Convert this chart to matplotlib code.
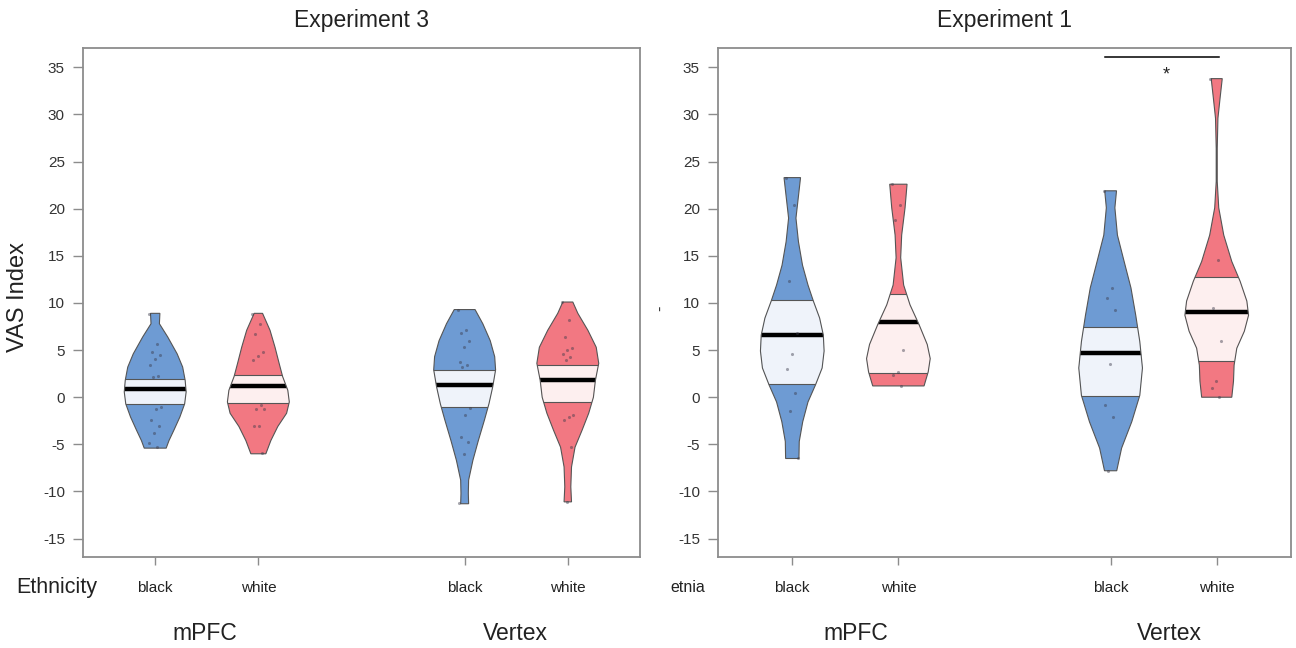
import numpy as np
import matplotlib
matplotlib.use("Agg")
import matplotlib.pyplot as plt
from matplotlib.patches import Rectangle, PathPatch

plt.rcParams['font.family'] = ['Liberation Sans', 'DejaVu Sans']
plt.rcParams['axes.unicode_minus'] = False

# ---------------- data ----------------
positions = [1, 2, 4, 5]
tick_labels = ["black", "white", "black", "white"]
group_names = ["mPFC", "Vertex"]
yticks = [-15, -10, -5, 0, 5, 10, 15, 20, 25, 30, 35]

# Experiment 3 bean outlines: value levels and relative density (half width)
e3_mpfc_black_y = [-5.4, -4.6, -3.5, -2.1, -0.7, 0.56, 1.8, 3.2, 4.6, 6.4, 7.8, 8.9]
e3_mpfc_black_d = [11, 13.8, 18.7, 24.7, 29.5, 31, 30, 27.5, 22, 12.5, 4.2, 4.7]
e3_mpfc_white_y = [-6.0, -4.6, -3.1, -1.7, -0.5, 0.74, 2.2, 3.6, 5.3, 7.1, 8.9]
e3_mpfc_white_d = [7.5, 12.5, 19.5, 28.3, 31, 29.5, 24.3, 20.8, 16.7, 11.7, 4.2]
e3_vertex_black_y = [-11.3, -10.2, -8.8, -6.7, -4.6, -2.4, -0.7, 1.1, 2.9, 4.3, 6.0, 7.8, 9.3]
e3_vertex_black_d = [4, 3.7, 4, 8.3, 13.8, 20, 24.5, 28.3, 31.2, 30.3, 25.8, 18.3, 10.5]
e3_vertex_white_y = [-11.1, -9.5, -7.4, -5.3, -3.5, -1.7, 0.0, 1.8, 3.6, 5.3, 7.1, 8.9, 10.1]
e3_vertex_white_d = [3.7, 3, 3.7, 7.2, 14.2, 20.8, 25.5, 27.5, 30.8, 28.3, 20, 10, 5]

# Experiment 1 bean outlines
e1_mpfc_black_y = [-6.5, -4.7, -2.6, -0.5, 1.3, 3.1, 4.9, 6.6, 8.4, 10.2, 11.9, 14.0, 16.5, 19.0, 21.8, 23.3]
e1_mpfc_black_d = [6.7, 7, 10.5, 15.8, 23.3, 30, 32, 31.2, 27.5, 21.2, 15.8, 10.3, 6.2, 3.7, 6.7, 8.3]
e1_mpfc_white_y = [1.2, 2.7, 4.1, 5.6, 7.7, 9.8, 11.9, 14.8, 17.2, 20.1, 22.6]
e1_mpfc_white_d = [25.8, 30, 32, 29, 20.8, 11.7, 5.3, 2.3, 3.3, 6.7, 8.7]
e1_vertex_black_y = [-7.8, -5.4, -2.6, 0.2, 3.1, 5.9, 8.7, 11.6, 14.4, 17.2, 20.1, 21.9]
e1_vertex_black_d = [6, 10.8, 20.8, 28.7, 31.3, 28.7, 24.7, 20, 13.3, 6.7, 4.2, 5.8]
e1_vertex_white_y = [0.0, 1.7, 3.4, 5.2, 7.0, 8.7, 10.2, 12.3, 14.4, 17.2, 20.1, 22.9, 26.4, 29.6, 31.7, 33.8]
e1_vertex_white_d = [15, 16.7, 17.3, 20, 27.5, 31.7, 30, 23.3, 15, 7, 2, 0.5, 0.5, 1.2, 3.3, 5.5]

# means and inference bands (lower, upper)
e3_means = [0.85, 1.15, 1.25, 1.85]
e3_band_lo = [-0.7, -0.6, -1.0, -0.5]
e3_band_hi = [1.9, 2.4, 2.9, 3.4]
e1_means = [6.6, 8.0, 4.7, 9.0]
e1_band_lo = [1.4, 2.6, 0.1, 3.8]
e1_band_hi = [10.3, 10.9, 7.5, 12.8]

# raw points
e3_mpfc_black_pts = [8.8, 5.7, 4.8, 4.5, 4.1, 3.4, 2.3, 2.1, -1.0, -1.2, -2.4, -3.1, -3.8, -4.9, -5.3]
e3_mpfc_white_pts = [8.8, 7.8, 6.7, 4.8, 4.4, 3.9, -0.8, -1.2, -1.3, -3.1, -3.1, -5.9]
e3_vertex_black_pts = [9.3, 7.1, 6.8, 6.0, 5.3, 3.7, 3.4, 3.2, -1.1, -1.9, -4.2, -4.7, -6.0, -11.2]
e3_vertex_white_pts = [10.1, 8.2, 6.4, 5.2, 5.0, 4.6, 4.3, 3.9, -1.9, -2.1, -2.4, -5.3, -11.1]
e1_mpfc_black_pts = [23.3, 20.4, 12.3, 6.8, 4.6, 3.0, 0.4, -1.5, -6.5]
e1_mpfc_white_pts = [22.6, 20.4, 18.8, 5.0, 2.7, 2.4, 1.2]
e1_vertex_black_pts = [21.9, 11.6, 10.5, 9.3, 3.5, -0.8, -2.1, -7.8]
e1_vertex_white_pts = [33.8, 14.6, 9.5, 6.0, 1.7, 1.0, 0.0]

# ---------------- style ----------------
fill_colors = ["#6E9BD3", "#F27882", "#6E9BD3", "#F27882"]
band_colors = ["#EFF3FA", "#FDEFEF", "#EFF3FA", "#FDEFEF"]
edge_col = "#555555"
spine_col = "#8C8C8C"
text_col = "#222222"

fig = plt.figure(figsize=(12.96, 6.48), dpi=100)
W, H = 1296, 648
ax1 = fig.add_axes([83 / W, (H - 557) / H, (640 - 83) / W, (557 - 48) / H])
ax2 = fig.add_axes([718 / W, (H - 557) / H, (1291 - 718) / W, (557 - 48) / H])


def draw_panel(ax, profiles, pts, means, lo, hi):
    stats = []
    for (ys, ds), m in zip(profiles, means):
        stats.append(dict(coords=np.array(ys, float), vals=np.array(ds, float),
                          mean=m, median=m, min=min(ys), max=max(ys)))
    parts = ax.violin(stats, positions=positions, widths=0.6,
                      showmeans=False, showextrema=False, showmedians=False)
    for i, body in enumerate(parts['bodies']):
        pos = positions[i]
        body.set_facecolor(fill_colors[i])
        body.set_alpha(1)
        body.set_edgecolor('none')
        body.set_zorder(1)
        path = body.get_paths()[0]
        band = Rectangle((pos - 0.5, lo[i]), 1.0, hi[i] - lo[i],
                         facecolor=band_colors[i], edgecolor=edge_col,
                         linewidth=0.8, zorder=2)
        ax.add_patch(band)
        band.set_clip_path(path, ax.transData)
        ln, = ax.plot([pos - 0.5, pos + 0.5], [means[i], means[i]],
                      color='black', lw=3.2, zorder=3, solid_capstyle='butt')
        ln.set_clip_path(path, ax.transData)
        outline = PathPatch(path, fill=False, edgecolor=edge_col, lw=0.8,
                            transform=ax.transData, zorder=4)
        ax.add_patch(outline)
        p = np.array(pts[i])
        offs = (((np.arange(len(p)) * 0.618) % 1.0) - 0.5) * 0.12
        ax.scatter(pos + offs, p, s=5, color='#3A3A4A', alpha=0.45,
                   linewidths=0, zorder=5)

    ax.set_xlim(0.3, 5.7)
    ax.set_ylim(-16.95, 37.05)
    ax.set_yticks(yticks)
    ax.set_xticks(positions)
    ax.set_xticklabels(tick_labels)
    for sp in ax.spines.values():
        sp.set_color(spine_col)
        sp.set_linewidth(1.3)
    ax.tick_params(axis='y', length=7, width=1, color=spine_col, pad=6,
                   labelsize=11, labelcolor='#333333')
    ax.tick_params(axis='x', length=6, width=1, color=spine_col, pad=11,
                   labelsize=11, labelcolor=text_col)


draw_panel(ax1,
           [(e3_mpfc_black_y, e3_mpfc_black_d), (e3_mpfc_white_y, e3_mpfc_white_d),
            (e3_vertex_black_y, e3_vertex_black_d), (e3_vertex_white_y, e3_vertex_white_d)],
           [e3_mpfc_black_pts, e3_mpfc_white_pts, e3_vertex_black_pts, e3_vertex_white_pts],
           e3_means, e3_band_lo, e3_band_hi)
draw_panel(ax2,
           [(e1_mpfc_black_y, e1_mpfc_black_d), (e1_mpfc_white_y, e1_mpfc_white_d),
            (e1_vertex_black_y, e1_vertex_black_d), (e1_vertex_white_y, e1_vertex_white_d)],
           [e1_mpfc_black_pts, e1_mpfc_white_pts, e1_vertex_black_pts, e1_vertex_white_pts],
           e1_means, e1_band_lo, e1_band_hi)

# significance marker
ax2.plot([3.95, 5.02], [36.1, 36.1], color='black', lw=1.1, clip_on=False)
ax2.text(4.52, 34.2, "*", ha='center', va='center', fontsize=13, color=text_col)

# titles and labels
fig.text(362 / W, 1 - 20 / H, "Experiment 3", ha='center', va='center', fontsize=16.5, color=text_col)
fig.text(1005 / W, 1 - 20 / H, "Experiment 1", ha='center', va='center', fontsize=16.5, color=text_col)
fig.text(18 / W, 1 - 297 / H, "VAS Index", rotation=90, ha='center', va='center', fontsize=17, color=text_col)
fig.text(57 / W, 1 - 587 / H, "Ethnicity", ha='center', va='center', fontsize=15.5, color=text_col)
fig.text(688 / W, 1 - 587 / H, "etnia", ha='center', va='center', fontsize=11.5, color=text_col)
fig.text(661 / W, 1 - 308 / H, "-", rotation=90, ha='center', va='center', fontsize=12, color='#333333')

for x_px, name in [(205, group_names[0]), (515, group_names[1]),
                   (856, group_names[0]), (1169, group_names[1])]:
    fig.text(x_px / W, 1 - 634 / H, name, ha='center', va='center', fontsize=16.5, color=text_col)

fig.savefig("out.png", dpi=100)
